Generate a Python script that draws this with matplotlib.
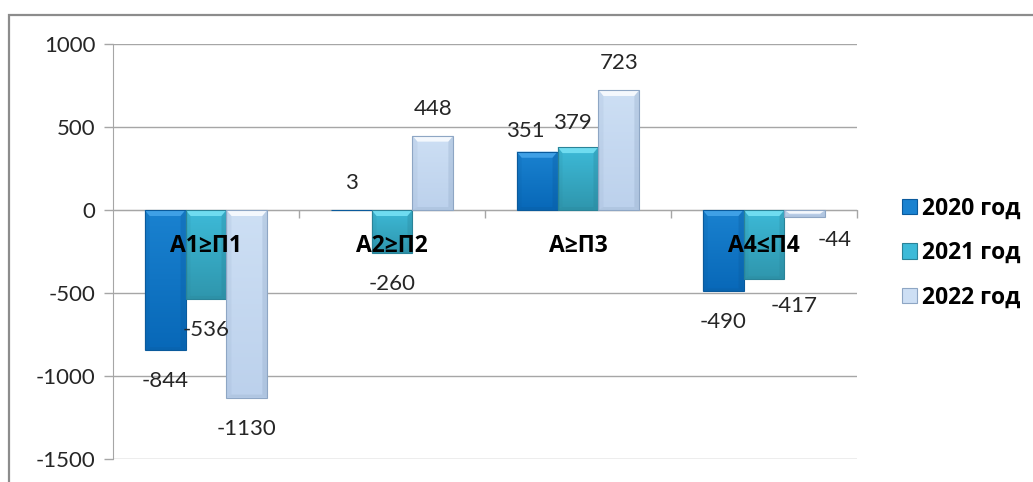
import matplotlib
matplotlib.use("Agg")
import matplotlib.pyplot as plt
import numpy as np
from matplotlib.patches import Rectangle, Polygon
from matplotlib.colors import to_rgb

categories = ["А1≥П1", "А2≥П2", "А≥П3", "А4≤П4"]
series_names = ["2020 год", "2021 год", "2022 год"]
v2020 = [-844, 3, 351, -490]
v2021 = [-536, -260, 379, -417]
v2022 = [-1130, 448, 723, -44]
yticks = [-1500, -1000, -500, 0, 500, 1000]

values = [v2020, v2021, v2022]
# (top colour, bottom colour, edge colour, bevel light)
styles = [
    ("#1a82d0", "#0868b8", "#0a5a9c", "#3fa0e6"),
    ("#3dbad8", "#2f96ad", "#2a8398", "#6fdcf0"),
    ("#cddff4", "#bcd1ec", "#8ea6c4", "#f4f8fd"),
]
# label nudges in pixels (dx, dy), keyed by (series, category)
nudges = {(0, 2): (-12, -6), (2, 3): (30, 8), (1, 3): (30, 4), (1, 2): (-6, -3)}

plt.rcParams['font.family'] = ['Lato', 'DejaVu Sans']
BOLD = ['Open Sans', 'DejaVu Sans']
W, H = 1033, 482
fig = plt.figure(figsize=(W / 100, H / 100), dpi=100)
L, R, T, B = 113, 857, 44, 459
ax = fig.add_axes([L / W, 1 - B / H, (R - L) / W, (B - T) / H])

# outer frame
fig.patches.append(Rectangle((8.5 / W, -0.1), 1.2, 1 - 14.5 / H + 0.1, transform=fig.transFigure,
                             fill=False, edgecolor="#8c8c8c", linewidth=1.6, zorder=0))

ymin, ymax = -1500, 1000
ax.set_xlim(-0.5, len(categories) - 0.5)
ax.set_ylim(ymin, ymax)
px_y = (ymax - ymin) / (B - T)
px_x = len(categories) / (R - L)

bw = 0.22
x = np.arange(len(categories))
for si, (vals, st) in enumerate(zip(values, styles)):
    top_c, bot_c, edge_c, light_c = st
    bars = ax.bar(x + (si - 1) * bw, vals, width=bw, color=bot_c, edgecolor='none',
                  zorder=3, label=series_names[si])
    for ci, p in enumerate(bars.patches):
        x0 = p.get_x(); x1 = x0 + p.get_width()
        y0 = p.get_y(); y1 = y0 + p.get_height()
        lo, hi = min(y0, y1), max(y0, y1)
        c1 = np.array(to_rgb(top_c)); c2 = np.array(to_rgb(bot_c))
        t = np.linspace(0, 1, 64)[:, None]
        grad = (c1 * (1 - t) + c2 * t)[:, None, :]
        im = ax.imshow(grad, extent=[x0, x1, lo, hi], aspect='auto', zorder=3.1,
                       interpolation='bilinear')
        im.set_clip_path(p)
        hpx = (hi - lo) / px_y
        b = min(6, hpx / 2) * px_y
        bb = min(3, hpx / 2) * px_y
        s = 5 * px_x
        if hpx > 1.5:
            ax.add_patch(Polygon([(x0, hi), (x1, hi), (x1 - s, hi - b), (x0 + s, hi - b)],
                                 closed=True, facecolor=light_c, edgecolor='none', zorder=3.2))
            ax.add_patch(Polygon([(x0, lo), (x1, lo), (x1 - s, lo + bb), (x0 + s, lo + bb)],
                                 closed=True, facecolor=edge_c, edgecolor='none', alpha=0.25, zorder=3.2))
            ax.add_patch(Polygon([(x1, hi), (x1, lo), (x1 - s, lo + bb), (x1 - s, hi - b)],
                                 closed=True, facecolor=edge_c, edgecolor='none', alpha=0.3, zorder=3.2))
            ax.add_patch(Polygon([(x0, hi), (x0, lo), (x0 + s, lo + bb), (x0 + s, hi - b)],
                                 closed=True, facecolor=edge_c, edgecolor='none', alpha=0.15, zorder=3.2))
        ax.add_patch(Rectangle((x0, lo), x1 - x0, hi - lo, fill=False, edgecolor=edge_c,
                               linewidth=0.8, zorder=3.3))
        v = vals[ci]
        dx, dy = nudges.get((si, ci), (0, 0))
        off = 27 if v >= 0 else -31
        ax.annotate(f"{v}", (p.get_x() + p.get_width() / 2, v),
                    xytext=(dx * 0.72, (off + dy) * 0.72), textcoords='offset points',
                    ha='center', va='center', fontsize=16, color='#262626', zorder=5)

# category labels
for i, c in enumerate(categories):
    ax.annotate(c, (i, 0), xytext=(0, -36 * 0.72), textcoords='offset points',
                ha='center', va='center', fontsize=16.5, fontweight='bold', family=BOLD,
                color='black', zorder=6)

# axes styling
ax.set_yticks(yticks)
ax.set_yticklabels([str(t) for t in yticks])
ax.yaxis.grid(True, color='#a6a6a6', linewidth=1.0, zorder=0)
ax.set_axisbelow(True)
for sp in ['top', 'right']:
    ax.spines[sp].set_visible(False)
ax.spines['left'].set_color('#a6a6a6')
ax.spines['bottom'].set_position(('data', 0))
ax.spines['bottom'].set_color('#a6a6a6')
ax.spines['bottom'].set_zorder(2)
ax.set_xticks(np.arange(len(categories)) + 0.5)
ax.set_xticklabels([])
ax.tick_params(axis='x', direction='out', length=6, color='#a6a6a6', width=1)
ax.tick_params(axis='y', direction='out', length=6.5, color='#a6a6a6', width=1,
               labelsize=16, labelcolor='#262626', pad=6)

# legend
handles = [Rectangle((0, 0), 1, 1, facecolor=st[0], edgecolor=st[2], linewidth=0.8) for st in styles]
leg = fig.legend(handles, series_names, loc='center left', bbox_to_anchor=(881 / W, 1 - 253 / H),
                 frameon=False, prop={'weight': 'bold', 'size': 16.5, 'family': BOLD},
                 handlelength=0.65, handleheight=0.65, handletextpad=0.25, labelspacing=0.9)

fig.savefig("out.png", dpi=100)
